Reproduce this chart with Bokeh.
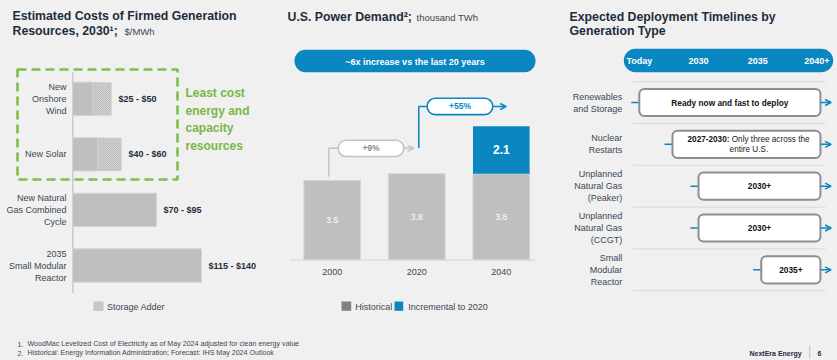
from bokeh.plotting import figure
from bokeh.models import Range1d, ColumnDataSource, Arrow, OpenHead
from bokeh.core.properties import value
from bokeh.embed import file_html
from bokeh.resources import INLINE
from jinja2 import Template

# ------------------------------------------------------------------ data
cost_categories = ["New\nOnshore\nWind", "New Solar",
                   "New Natural\nGas Combined\nCycle", "2035\nSmall Modular\nReactor"]
cost_low = [25, 40, 70, 115]          # $/MWh
cost_high = [50, 60, 95, 140]         # $/MWh
storage_adder = [19, 24, 0, 0]        # $/MWh (hatched part of the bar)
COST_AXIS_MIN = 11                    # value axis does not start at zero

demand_years = ["2000", "2020", "2040"]
demand_historical = [3.5, 3.8, 3.8]   # thousand TWh
demand_incremental = [0.0, 0.0, 2.1]  # thousand TWh
growth_labels = ["+9%", "+55%"]

timeline_types = ["Renewables\nand Storage", "Nuclear\nRestarts",
                  "Unplanned\nNatural Gas\n(Peaker)", "Unplanned\nNatural Gas\n(CCGT)",
                  "Small\nModular\nReactor"]
timeline_start = [2025, 2027.8, 2030, 2030, 2035.3]
timeline_end = [2040.3, 2040.3, 2040.3, 2040.3, 2040.3]
timeline_notes = ["Ready now and fast to deploy", "2027-2030:", "2030+", "2030+", "2035+"]
timeline_ticks = [2025, 2030, 2035, 2040]
timeline_tick_labels = ["Today", "2030", "2035", "2040+"]

# ------------------------------------------------------------------ style
W, H = 837, 360
BG = "#f0f0f0"
NAVY = "#1d2d3d"
TXT = "#3b4754"
GRAY = "#bfbfbf"
BLUE = "#0a87c0"
GREEN = "#7ab648"
FONT = value("Liberation Sans")
HATCH = dict(fill_color="#d0d0d0", hatch_pattern="diagonal_cross", hatch_color="#b2b2b2",
             hatch_scale=2, hatch_weight=0.5)


def lin(v0, p0, v1, p1, size, flip=False):
    s = (p1 - p0) / (v1 - v0)
    a = v0 + (0 - p0) / s
    b = v0 + (size - p0) / s
    return Range1d(start=b, end=a) if flip else Range1d(start=a, end=b)


p = figure(width=W, height=H, x_range=Range1d(0, W), y_range=Range1d(H, 0),
           output_backend="svg", toolbar_location=None, title=None,
           x_axis_location=None, y_axis_location=None, min_border=0,
           background_fill_color=BG, border_fill_color=BG, outline_line_color=None)
p.xgrid.visible = False
p.ygrid.visible = False

p.extra_x_ranges = {
    "cost": lin(0, 61, 100, 161, W),
    "didx": lin(0, 331.7, 2, 500.8, W),
    "year": lin(2025, 638.8, 2035, 757.2, W),
}
p.extra_y_ranges = {
    "crow": lin(0, 98.3, 3, 265, H, flip=True),
    "twh": lin(0, 259.3, 1, 259.3 - 22.65, H, flip=True),
    "row": lin(0, 102, 4, 269.3, H, flip=True),
}


def txt(x, y, s, size, color, bold=False, align="left", baseline="middle",
        xr="default", yr="default", lh=1.2, xo=0, yo=0):
    xs = x if isinstance(x, list) else [x]
    ys = y if isinstance(y, list) else [y]
    ss = s if isinstance(s, list) else [s]
    p.text(x=xs, y=ys, text=ss, text_font=FONT, text_font_size=f"{size}px",
           text_color=color, text_font_style="bold" if bold else "normal",
           text_align=align, text_baseline=baseline, x_range_name=xr,
           y_range_name=yr, text_line_height=lh, x_offset=xo, y_offset=yo)


# ================================================================== panel 1
txt(12, 15, "Estimated Costs of Firmed Generation", 12.3, NAVY, bold=True)
txt(12, 30, "Resources, 2030¹;", 12.3, NAVY, bold=True)
txt(124, 31, "$/MWh", 9.5, TXT)

p.quad(left=[17], right=[177], top=[69], bottom=[179], fill_color=None,
       line_color="#7cbf4a", line_width=2.6, line_dash="9 5")
p.segment(x0=[72.3], x1=[72.3], y0=[72], y1=[292.5], line_color="#c8c8c8", line_width=1.5)

c_idx = list(range(len(cost_categories)))
base_end = [h - a for h, a in zip(cost_high, storage_adder)]
p.hbar(y=c_idx, left=[COST_AXIS_MIN] * len(c_idx), right=base_end, height=0.6,
       x_range_name="cost", y_range_name="crow", fill_color=GRAY,
       line_color="#d4d4d4", line_width=1)
s_idx = [i for i in c_idx if storage_adder[i] > 0]
p.hbar(y=s_idx, left=[base_end[i] for i in s_idx], right=[cost_high[i] for i in s_idx],
       height=0.6, x_range_name="cost", y_range_name="crow", line_color=None, **HATCH)
txt([COST_AXIS_MIN] * len(c_idx), c_idx, cost_categories, 9, TXT, align="right",
    xr="cost", yr="crow", xo=-6)
txt(cost_high, c_idx, [f"${lo} - ${hi}" for lo, hi in zip(cost_low, cost_high)], 9, NAVY,
    bold=True, xr="cost", yr="crow", xo=7)
txt(185, 119, "Least cost\nenergy and\ncapacity\nresources", 12, GREEN, bold=True, lh=1.27)

p.quad(left=[93], right=[103], top=[301], bottom=[310.5], line_color=None, **HATCH)
txt(106.5, 306, "Storage Adder", 9, TXT)

# ================================================================== panel 2
txt(287, 16, "U.S. Power Demand²;", 12.3, NAVY, bold=True)
txt(416, 17, "thousand TWh", 9.5, TXT)

p.quad(left=[294], right=[535], top=[49.3], bottom=[71.7], fill_color=BLUE,
       line_color=None, border_radius=11)
txt(414.5, 61, "~6x increase vs the last 20 years", 9, "white", bold=True, align="center")

d_idx = list(range(len(demand_years)))
p.vbar(x=d_idx, width=0.67, bottom=0, top=demand_historical, x_range_name="didx",
       y_range_name="twh", fill_color=GRAY, line_color="#d4d4d4", line_width=1)
i_idx = [i for i in d_idx if demand_incremental[i] > 0]
p.vbar(x=i_idx, width=0.67, bottom=[demand_historical[i] for i in i_idx],
       top=[demand_historical[i] + demand_incremental[i] for i in i_idx],
       x_range_name="didx", y_range_name="twh", fill_color=BLUE, line_color=None)
p.segment(x0=[289], x1=[535], y0=[259.5], y1=[259.5], line_color="#d2d2d2", line_width=1.2)

txt(d_idx, [h / 2 for h in demand_historical], [f"{h:.1f}" for h in demand_historical],
    8.5, "white", align="center", xr="didx", yr="twh")
txt(i_idx, [demand_historical[i] + demand_incremental[i] / 2 for i in i_idx],
    [f"{demand_incremental[i]:.1f}" for i in i_idx], 12, "white", bold=True,
    align="center", xr="didx", yr="twh")
txt(d_idx, [271] * len(d_idx), demand_years, 9, TXT, align="center", xr="didx")

# growth connectors (positions in bar-index / TWh units)
LVL = [4.92, 6.77]
CONN_COLORS = ["#c4c4c4", BLUE]
TEXT_COLORS = ["#8a8a8a", BLUE]
conn_x = [-0.04, 1.024]
pill_l = [0.071, 1.123]
pill_r = [0.847, 1.899]
tip_x = [0.965, 2.057]
conn_y0 = [demand_historical[0] + 0.17, LVL[0] + 0.02]
for k in range(2):
    p.line(x=[conn_x[k], conn_x[k], pill_l[k]], y=[conn_y0[k], LVL[k], LVL[k]],
           x_range_name="didx", y_range_name="twh", line_color=CONN_COLORS[k], line_width=1.5)
    p.quad(left=[pill_l[k]], right=[pill_r[k]], top=[LVL[k] + 0.36], bottom=[LVL[k] - 0.36],
           x_range_name="didx", y_range_name="twh", fill_color="white",
           line_color=CONN_COLORS[k], line_width=1.6, border_radius=8)
    txt((pill_l[k] + pill_r[k]) / 2, LVL[k], growth_labels[k], 8.5, TEXT_COLORS[k], bold=True,
        align="center", xr="didx", yr="twh")
    p.add_layout(Arrow(end=OpenHead(size=6, line_color=CONN_COLORS[k], line_width=1.5),
                       x_start=pill_r[k], y_start=LVL[k], x_end=tip_x[k], y_end=LVL[k],
                       line_color=CONN_COLORS[k], line_width=1.5,
                       x_range_name="didx", y_range_name="twh"))

p.quad(left=[341], right=[350.7], top=[301], bottom=[310.3], fill_color="#7f8185", line_color=None)
txt(354.7, 306, "Historical", 9, TXT)
p.quad(left=[394], right=[402.7], top=[301], bottom=[310.3], fill_color=BLUE, line_color=None)
txt(407.7, 306, "Incremental to 2020", 9, TXT)

# ================================================================== panel 3
txt(569, 16, "Expected Deployment Timelines by", 12.3, NAVY, bold=True)
txt(569, 30, "Generation Type", 12.3, NAVY, bold=True)

p.quad(left=[623.3], right=[832.7], top=[48.3], bottom=[71.7], fill_color=BLUE,
       line_color=None, border_radius=12)
txt(timeline_ticks, [60] * 4, timeline_tick_labels, 9, "white", bold=True, align="center", xr="year")

r_idx = list(range(len(timeline_types)))
sep = [i - 0.5 for i in r_idx] + [r_idx[-1] + 0.5]
p.segment(x0=[631.7] * len(sep), x1=[825] * len(sep), y0=sep, y1=sep, y_range_name="row",
          line_color="#dcdcdc", line_width=1.2)
txt([621.7] * len(r_idx), r_idx, timeline_types, 9, TXT, align="right", yr="row")

p.segment(x0=[s - 0.68 for s in timeline_start], x1=timeline_start, y0=r_idx, y1=r_idx,
          x_range_name="year", y_range_name="row", line_color=BLUE, line_width=1.5)
p.quad(left=timeline_start, right=timeline_end, top=[i - 0.325 for i in r_idx],
       bottom=[i + 0.325 for i in r_idx], x_range_name="year", y_range_name="row",
       fill_color="white", line_color="#8a8e93", line_width=2, border_radius=5)
arr_src = ColumnDataSource(dict(xs=timeline_end, xe=[e + 0.9 for e in timeline_end],
                                y=r_idx))
p.add_layout(Arrow(end=OpenHead(size=6, line_color=BLUE, line_width=1.5),
                   x_start="xs", y_start="y", x_end="xe", y_end="y", source=arr_src,
                   line_color=BLUE, line_width=1.5, x_range_name="year", y_range_name="row"))

centers = [(s + e) / 2 for s, e in zip(timeline_start, timeline_end)]
single = [i for i in r_idx if i != 1]
txt([centers[i] for i in single], single, [timeline_notes[i] for i in single], 8.3, "#111111",
    bold=True, align="center", xr="year", yr="row")
# nuclear restarts: bold lead-in + regular text on two lines
txt(centers[1], 1, timeline_notes[1], 8.2, "#111111", bold=True, align="right",
    xr="year", yr="row", xo=-17, yo=-4.5)
txt(centers[1], 1, "Only three across the", 8.2, "#222222", align="left",
    xr="year", yr="row", xo=-14.7, yo=-4.5)
txt(centers[1], 1, "entire U.S.", 8.2, "#222222", align="center",
    xr="year", yr="row", xo=2.5, yo=5.5)

# ================================================================== footer
txt(17, 343.5, "1.", 7.1, TXT)
txt(27, 343.5, "WoodMac Levelized Cost of Electricity as of May 2024 adjusted for clean energy value", 7.1, TXT)
txt(17, 352.5, "2.", 7.1, TXT)
txt(27, 352.5, "Historical: Energy Information Administration; Forecast: IHS May 2024 Outlook", 7.1, TXT)
txt(749, 352.7, "NextEra Energy", 7, NAVY, bold=True)
p.segment(x0=[809.3], x1=[809.3], y0=[345], y1=[358], line_color="#bdbdbd", line_width=1)
txt(817, 353, "6", 7, NAVY, bold=True)

TEMPLATE = Template("""<!DOCTYPE html>
<html lang="en">
<head>
<meta charset="utf-8">
<title>{{ title }}</title>
<style>html, body { margin: 0 !important; padding: 0 !important; background: #f0f0f0; overflow: hidden; }</style>
{{ bokeh_css }}
{{ bokeh_js }}
</head>
<body>
{{ plot_div }}
{{ plot_script }}
</body>
</html>""")

open("out.html", "w").write(file_html(p, INLINE, title="chart", template=TEMPLATE))
